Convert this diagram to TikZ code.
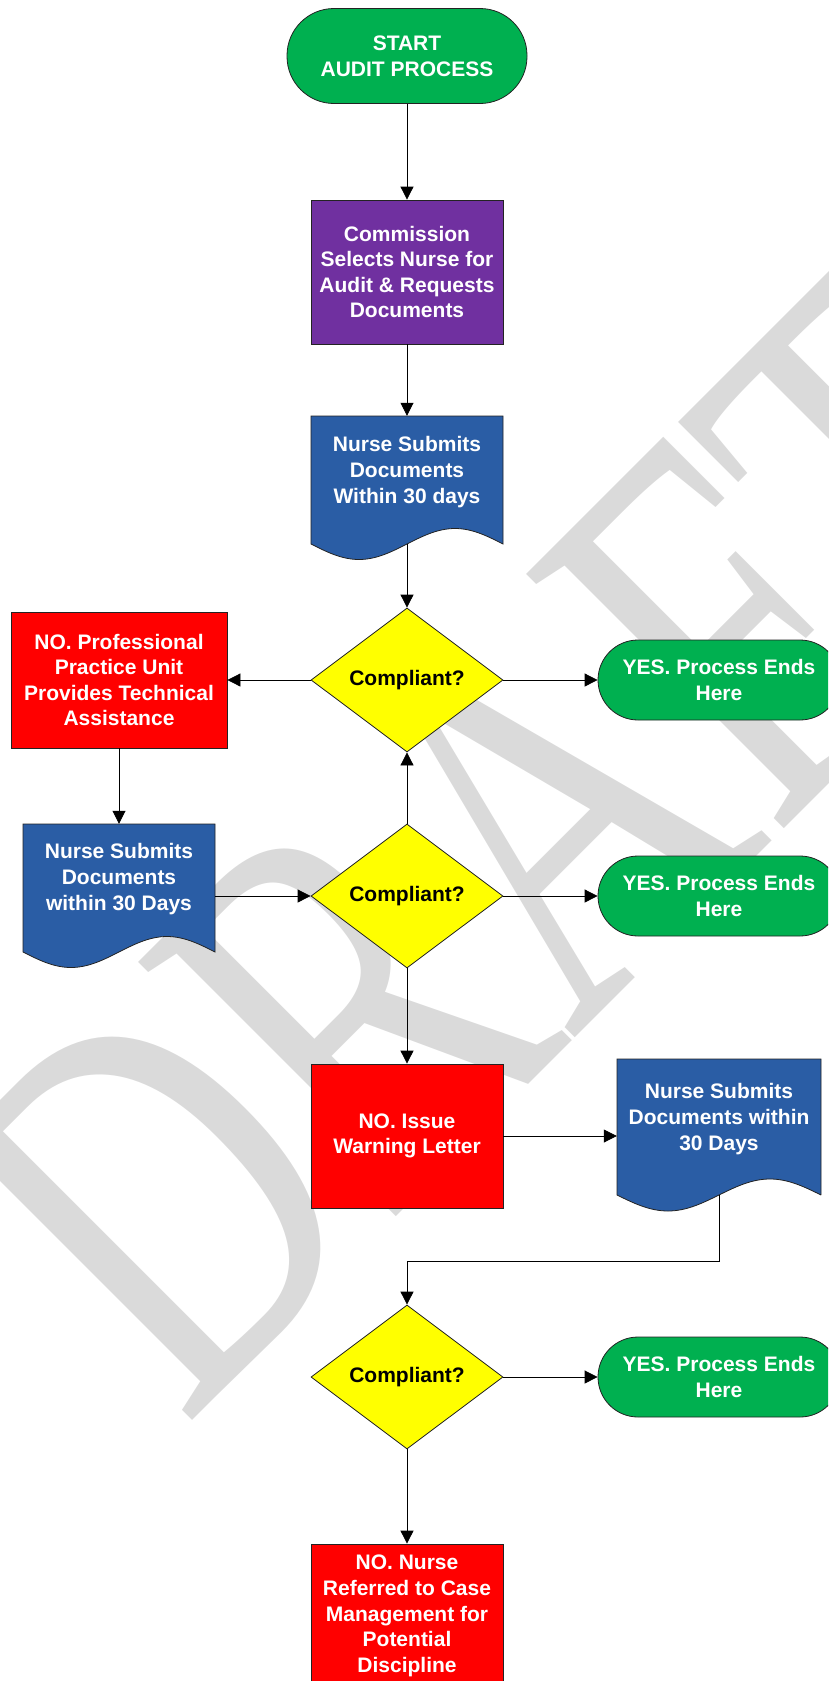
\documentclass[tikz,border=0pt]{standalone}
\usepackage{fontspec}
\setmainfont{Liberation Sans}
\newfontfamily\wmfont{Liberation Serif}
\usetikzlibrary{shapes.geometric,arrows.meta}
\definecolor{cgreen}{RGB}{0,176,80}
\definecolor{cpurple}{RGB}{112,48,160}
\definecolor{cblue}{RGB}{42,93,165}
\definecolor{cred}{RGB}{255,0,0}
\definecolor{cyellow}{RGB}{255,255,0}
\definecolor{wmgray}{RGB}{218,218,218}
\definecolor{edge}{RGB}{35,35,35}
\newcommand\docpath[5]{%
  \pgfmathsetmacro\docfac{360/(#2-#1)}%
  \path[docfill] (#1,#3) -- (#2,#3) -- (#2,#4) -- plot[domain=#2:#1, samples=61, smooth] (\x,{#4+#5*sin(\docfac*(\x-#1))}) -- cycle;}
\begin{document}
\begin{tikzpicture}[x=1pt,y=-1pt,
  txt/.style={font=\fontsize{21}{25.6}\selectfont\bfseries, align=center, text=white, inner sep=0pt},
  box/.style={txt, draw=edge, line width=0.8pt, rectangle},
  term/.style={box, fill=cgreen},
  proc/.style={box, fill=cred, minimum width=192pt},
  dec/.style={txt, text=black, diamond, draw=edge, line width=0.8pt, fill=cyellow, minimum width=192pt, minimum height=144pt},
  docfill/.style={fill=cblue, draw=edge, line width=0.8pt},
  anchorbox/.style={rectangle, inner sep=0pt},
  conn/.style={draw=black, line width=0.8pt},
  arr/.style={conn, -{Triangle[length=13pt,width=13pt]}}
]
\useasboundingbox (0,0) rectangle (828,1681);
\clip (0,0) rectangle (828,1681);

% watermark
\node[rotate=45, yscale=1.4, inner sep=0pt, text=wmgray, font=\wmfont\fontsize{395}{395}\selectfont] (wm) at (514,842) {DRAFT};

% shapes
\node[term, minimum width=240pt, minimum height=95pt, rounded corners=47pt] (start) at (407,56) {START\\AUDIT PROCESS};
\node[box, fill=cpurple, minimum width=192pt, minimum height=144pt] (sel) at (407,272) {Commission\\Selects Nurse for\\Audit \& Requests\\Documents};

\docpath{311}{503}{416}{544}{15.5}
\node[anchorbox, minimum width=192pt, minimum height=128pt] (d1) at (407,480) {};
\node[txt] (d1t) at (407,472) {Nurse Submits\\Documents\\Within 30 days};

\node[dec] (q1) at (407,680) {Compliant?};
\node[proc, minimum width=216pt, minimum height=136pt] (r1) at (119,680) {NO. Professional\\Practice Unit\\Provides Technical\\Assistance};
\node[term, minimum width=242pt, minimum height=80pt, rounded corners=40pt] (y1) at (719,680) {YES. Process Ends\\Here};

\docpath{23}{215}{824}{952}{15.5}
\node[anchorbox, minimum width=192pt, minimum height=128pt] (d2) at (119,888) {};
\node[txt] (d2t) at (119,879) {Nurse Submits\\Documents\\within 30 Days};

\node[dec] (q2) at (407,896) {Compliant?};
\node[term, minimum width=242pt, minimum height=80pt, rounded corners=40pt] (y2) at (719,896) {YES. Process Ends\\Here};

\node[proc, minimum height=144pt] (r2) at (407,1136) {NO. Issue\\Warning Letter};

\docpath{617}{821}{1059}{1195}{16}
\node[anchorbox, minimum width=204pt, minimum height=136pt] (d3) at (719,1127) {};
\node[txt] (d3t) at (719,1119) {Nurse Submits\\Documents within\\30 Days};

\node[dec] (q3) at (407,1377) {Compliant?};
\node[term, minimum width=242pt, minimum height=80pt, rounded corners=40pt] (y3) at (719,1377) {YES. Process Ends\\Here};

\node[proc, minimum height=144pt] (r3) at (407,1616) {NO. Nurse\\Referred to Case\\Management for\\Potential\\Discipline};

% connectors
\coordinate (bend) at (0,1261);
\draw[arr] (start) -- (sel);
\draw[arr] (sel) -- (d1);
\draw[arr] (d1.south) -- (q1.north);
\draw[arr] (q1) -- (r1);
\draw[arr] (q1) -- (y1);
\draw[arr] (r1) -- (d2);
\draw[arr] (q2.west -| d2.east) -- (q2.west);
\draw[arr] (q2) -- (q1);
\draw[arr] (q2) -- (y2);
\draw[arr] (q2) -- (r2);
\draw[arr] (r2.east) -- (r2.east -| d3.west);
\draw[arr] (d3.south) -- (d3.south |- bend) -| (q3.north);
\draw[arr] (q3) -- (y3);
\draw[arr] (q3) -- (r3);
\end{tikzpicture}
\end{document}
